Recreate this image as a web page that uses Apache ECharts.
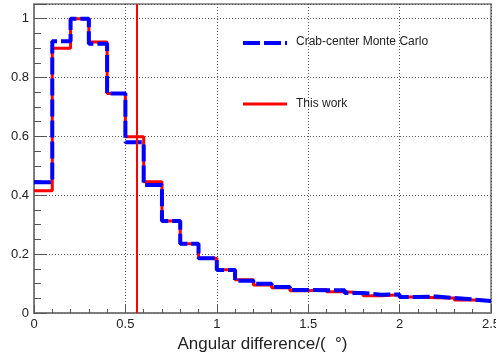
<!DOCTYPE html>
<html>
<head>
<meta charset="utf-8">
<script src="https://cdn.jsdelivr.net/npm/echarts@6/dist/echarts.min.js"></script>
<style>
  html, body { margin: 0; padding: 0; background: #fff; }
  #chart { width: 496px; height: 354px; }
</style>
</head>
<body>
<div id="chart"></div>
<script>
// bin edges (left edge of each 0.1 bin)
const binEdges = [0, 0.1, 0.2, 0.3, 0.4, 0.5, 0.6, 0.7, 0.8, 0.9, 1.0, 1.1, 1.2,
    1.3, 1.4, 1.5, 1.6, 1.7, 1.8, 1.9, 2.0, 2.1, 2.2, 2.3, 2.4, 2.5];
// Crab-center Monte Carlo
const mcValues = [0.444, 0.923, 1.0, 0.915, 0.746, 0.580, 0.435, 0.313, 0.235, 0.186,
    0.146, 0.110, 0.099, 0.088, 0.078, 0.077, 0.077, 0.068, 0.062, 0.063,
    0.054, 0.056, 0.051, 0.046, 0.041];
// This work
const dataValues = [0.415, 0.900, 1.0, 0.921, 0.746, 0.599, 0.446, 0.313, 0.235, 0.186,
    0.147, 0.113, 0.095, 0.086, 0.076, 0.080, 0.072, 0.069, 0.059, 0.062,
    0.054, 0.052, 0.051, 0.044, 0.042];
const markerX = 0.556;
const xTicks = ['0', '0.5', '1', '1.5', '2', '2.5'];

// histogram -> step points, last value repeated at right edge
function toSteps(vals) {
    let pts = vals.map((v, i) => [binEdges[i], v]);
    pts.push([binEdges[vals.length], vals[vals.length - 1]]);
    return pts;
}

const labelFont = { fontFamily: 'Liberation Sans', fontSize: 13, color: '#222' };
const mcDash = [17, 4];

const chart = echarts.init(document.getElementById('chart'));
chart.setOption({
    animation: false,
    grid: {
        left: 34, right: 5, top: 4, bottom: 41,
        outerBoundsMode: 'none',
        show: true, borderColor: '#777', borderWidth: 1.5
    },
    // legend drawn by hand (ROOT style box-less legend)
    graphic: [
        { type: 'line', shape: { x1: 243, y1: 43, x2: 287, y2: 43 },
          style: { stroke: '#0000ff', lineWidth: 4, lineDash: [17, 4, 17, 4, 2, 4] } },
        { type: 'text', left: 296, top: 36,
          style: { text: 'Crab-center Monte Carlo', font: '12px "Liberation Sans"', fill: '#222' } },
        { type: 'line', shape: { x1: 243, y1: 104, x2: 287, y2: 104 },
          style: { stroke: '#ff0000', lineWidth: 3 } },
        { type: 'text', left: 296, top: 98,
          style: { text: 'This work', font: '12px "Liberation Sans"', fill: '#222' } }
    ],
    xAxis: {
        type: 'value',
        min: 0,
        max: 2.5,
        interval: 0.5,
        name: 'Angular difference/(  °)',
        nameLocation: 'middle',
        nameGap: 15,
        nameTextStyle: { fontFamily: 'Liberation Sans', fontSize: 17, color: '#222' },
        axisLine: { show: true, onZero: false, lineStyle: { color: '#777', width: 1.5 } },
        axisTick: { inside: true, length: 8, lineStyle: { color: '#555' } },
        minorTick: { show: true, splitNumber: 5, length: 4, lineStyle: { color: '#555' } },
        axisLabel: Object.assign({
            margin: 5,
            formatter: v => xTicks[Math.round(v / 0.5)]
        }, labelFont),
        splitLine: { show: true, lineStyle: { color: '#555', type: [1, 2], width: 1 } }
    },
    yAxis: {
        type: 'value',
        min: 0,
        max: 1.05,
        interval: 0.2,
        axisLine: { show: true, lineStyle: { color: '#777', width: 1.5 } },
        axisTick: { inside: true, length: 13, lineStyle: { color: '#555' } },
        minorTick: { show: true, splitNumber: 4, length: 7, lineStyle: { color: '#555' } },
        axisLabel: Object.assign({ margin: 5, showMaxLabel: false }, labelFont),
        splitLine: { show: true, lineStyle: { color: '#555', type: [1, 2], width: 1 } }
    },
    series: [
        {
            name: 'This work',
            type: 'line',
            step: 'end',
            symbol: 'none',
            data: toSteps(dataValues),
            lineStyle: { color: '#ff0000', width: 3 },
            markLine: {
                silent: true,
                symbol: 'none',
                label: { show: false },
                lineStyle: { color: '#ff0000', width: 2, type: 'solid' },
                data: [{ xAxis: markerX }]
            },
            z: 2
        },
        {
            name: 'Crab-center Monte Carlo',
            type: 'line',
            step: 'end',
            symbol: 'none',
            data: toSteps(mcValues),
            lineStyle: { color: '#0000ff', width: 4, type: mcDash },
            z: 3
        }
    ]
});
</script>
</body>
</html>
